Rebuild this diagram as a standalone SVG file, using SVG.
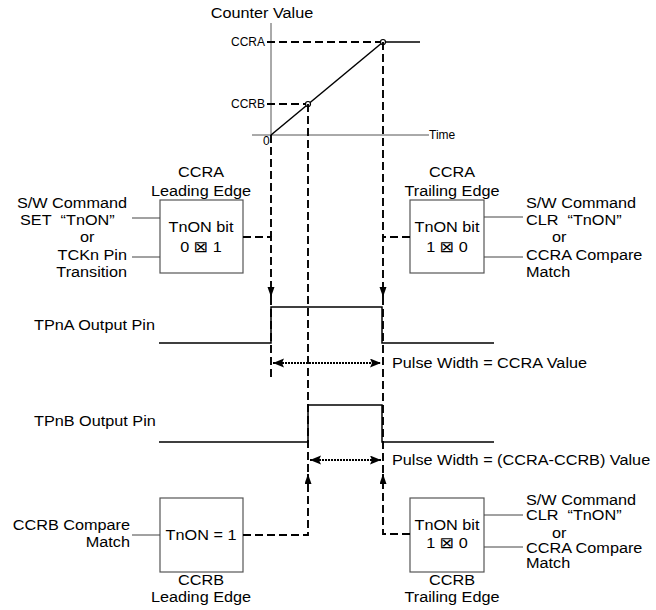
<svg xmlns="http://www.w3.org/2000/svg" width="656" height="610" viewBox="0 0 656 610">
<defs>
<style>
.t{font-family:"Liberation Sans","DejaVu Sans",Arial,sans-serif;font-size:14px;fill:#000}
.s{font-size:12px}
.m{text-anchor:middle}
.e{text-anchor:end}
.g{font-family:"DejaVu Sans",sans-serif;font-size:15px}
.box{fill:#fff;stroke:#555;stroke-width:1.2}
.in{stroke:#444;stroke-width:1;fill:none}
.ax{stroke:#555;stroke-width:1;fill:none}
.dash{stroke:#000;stroke-width:1.9;stroke-dasharray:8 4;fill:none}
.wave{stroke:#000;stroke-width:1.5;fill:none}
.dim{stroke:#000;stroke-width:2;stroke-dasharray:2 1;fill:none}
.pt{fill:#fff;stroke:#000;stroke-width:1.2}
</style>
<marker id="ah" markerUnits="userSpaceOnUse" markerWidth="11" markerHeight="8" refX="10" refY="3.5" orient="auto">
<path d="M0,0 L10,3.5 L0,7 z" fill="#000"/>
</marker>
<marker id="dh" markerUnits="userSpaceOnUse" markerWidth="12" markerHeight="10" refX="11" refY="4.5" orient="auto-start-reverse">
<path d="M0,0 L11,4.5 L0,9 L2,4.5 z" fill="#000"/>
</marker>
</defs>
<rect width="656" height="610" fill="#fff"/>

<g id="graph">
<text class="t m" transform="translate(262 18) scale(1.16 1)">Counter Value</text>
<line class="ax" x1="271" y1="23" x2="271" y2="135"/>
<line class="ax" x1="252" y1="135" x2="429" y2="135"/>
<text class="t s" x="429" y="139">Time</text>
<text class="t s" x="263" y="145">0</text>
<text class="t s e" x="265" y="46">CCRA</text>
<text class="t s e" x="265" y="108">CCRB</text>
<path class="dash" d="M267,42 H383"/>
<path class="dash" d="M267,104 H308"/>
<line class="wave" x1="271" y1="135" x2="383" y2="42"/>
<line class="wave" x1="383" y1="42" x2="420" y2="42"/>
<circle class="pt" cx="308" cy="104" r="2.5"/>
<circle class="pt" cx="383" cy="42" r="2.5"/>
</g>

<g id="ccra-lead">
<text class="t m" transform="translate(201 177) scale(1.16 1)">CCRA</text>
<text class="t m" transform="translate(201 196) scale(1.16 1)">Leading Edge</text>
<rect class="box" x="160" y="200" width="83" height="73"/>
<text class="t m" transform="translate(201 232) scale(1.16 1)">TnON bit</text>
<text class="t m" transform="translate(201 252) scale(1.16 1)">0 <tspan class="g">⊠</tspan> 1</text>
<line class="in" x1="132" y1="218" x2="160" y2="218"/>
<line class="in" x1="132" y1="257" x2="160" y2="257"/>
<text class="t e" transform="translate(127 208) scale(1.16 1)">S/W Command</text>
<text class="t" transform="translate(20 225) scale(1.16 1)">SET&#160; “TnON”</text>
<text class="t" transform="translate(80 242) scale(1.16 1)">or</text>
<text class="t e" transform="translate(127 260) scale(1.16 1)">TCKn Pin</text>
<text class="t e" transform="translate(127 277) scale(1.16 1)">Transition</text>
</g>

<g id="ccra-trail">
<text class="t m" transform="translate(452 177) scale(1.16 1)">CCRA</text>
<text class="t m" transform="translate(452 196) scale(1.16 1)">Trailing Edge</text>
<rect class="box" x="410" y="200" width="74" height="73"/>
<text class="t m" transform="translate(447 232) scale(1.16 1)">TnON bit</text>
<text class="t m" transform="translate(447 252) scale(1.16 1)">1 <tspan class="g">⊠</tspan> 0</text>
<line class="in" x1="484" y1="217" x2="523" y2="217"/>
<line class="in" x1="484" y1="257" x2="523" y2="257"/>
<text class="t" transform="translate(526 208) scale(1.16 1)">S/W Command</text>
<text class="t" transform="translate(526 225) scale(1.16 1)">CLR&#160; “TnON”</text>
<text class="t" transform="translate(552 242) scale(1.16 1)">or</text>
<text class="t" transform="translate(526 260) scale(1.16 1)">CCRA Compare</text>
<text class="t" transform="translate(526 277) scale(1.16 1)">Match</text>
</g>

<g id="tpna">
<text class="t" transform="translate(34 330) scale(1.16 1)">TPnA Output Pin</text>
<polyline class="wave" points="159,343 271,343 271,307 382,307 382,343 494,343"/>
<line class="dim" x1="273" y1="363" x2="381" y2="363" marker-start="url(#dh)" marker-end="url(#dh)"/>
<text class="t" transform="translate(392 368) scale(1.16 1)">Pulse Width = CCRA Value</text>
</g>

<g id="tpnb">
<text class="t" transform="translate(34 426) scale(1.16 1)">TPnB Output Pin</text>
<polyline class="wave" points="159,442 308,442 308,405 382,405 382,442 494,442"/>
<line class="dim" x1="310" y1="460" x2="381" y2="460" marker-start="url(#dh)" marker-end="url(#dh)"/>
<text class="t" transform="translate(392 465) scale(1.16 1)">Pulse Width = (CCRA-CCRB) Value</text>
</g>

<g id="ccrb-lead">
<rect class="box" x="160" y="498" width="83" height="74"/>
<text class="t m" transform="translate(201 540) scale(1.16 1)">TnON = 1</text>
<line class="in" x1="132" y1="535" x2="160" y2="535"/>
<text class="t e" transform="translate(130 530) scale(1.16 1)">CCRB Compare</text>
<text class="t e" transform="translate(130 547) scale(1.16 1)">Match</text>
<text class="t m" transform="translate(201 585) scale(1.16 1)">CCRB</text>
<text class="t m" transform="translate(201 602) scale(1.16 1)">Leading Edge</text>
</g>

<g id="ccrb-trail">
<rect class="box" x="410" y="498" width="74" height="74"/>
<text class="t m" transform="translate(447 530) scale(1.16 1)">TnON bit</text>
<text class="t m" transform="translate(447 548) scale(1.16 1)">1 <tspan class="g">⊠</tspan> 0</text>
<line class="in" x1="484" y1="515" x2="523" y2="515"/>
<line class="in" x1="484" y1="547" x2="523" y2="547"/>
<text class="t" transform="translate(526 505) scale(1.16 1)">S/W Command</text>
<text class="t" transform="translate(526 520) scale(1.16 1)">CLR&#160; “TnON”</text>
<text class="t" transform="translate(552 538) scale(1.16 1)">or</text>
<text class="t" transform="translate(526 553) scale(1.16 1)">CCRA Compare</text>
<text class="t" transform="translate(526 568) scale(1.16 1)">Match</text>
<text class="t m" transform="translate(452 585) scale(1.16 1)">CCRB</text>
<text class="t m" transform="translate(452 602) scale(1.16 1)">Trailing Edge</text>
</g>

<g id="connectors">
<path class="dash" d="M271,135 V237"/>
<path class="dash" d="M243,237 H271 V297" marker-end="url(#ah)"/>
<path class="dash" d="M271,297 V377"/>
<path class="dash" d="M383,42 V237"/>
<path class="dash" d="M410,237 H383 V297" marker-end="url(#ah)"/>
<path class="dash" d="M383,297 V474"/>
<path class="dash" d="M410,534 H383 V474" marker-end="url(#ah)"/>
<path class="dash" d="M308,104 V474"/>
<path class="dash" d="M243,535 H308 V474" marker-end="url(#ah)"/>
</g>
</svg>
